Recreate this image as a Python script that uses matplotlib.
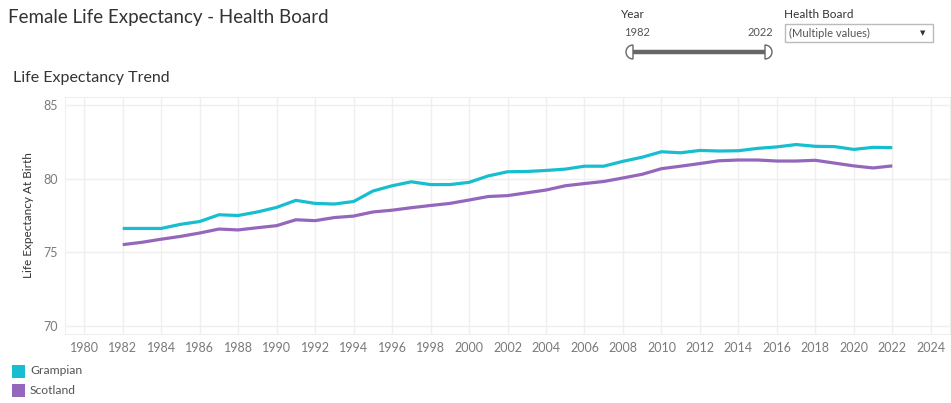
import matplotlib
matplotlib.use('Agg')
import matplotlib.pyplot as plt
from matplotlib.patches import Rectangle, Wedge

# Data
years = list(range(1982, 2023))
grampian = [76.62, 76.62, 76.62, 76.90, 77.09, 77.55, 77.50, 77.74, 78.05, 78.53,
            78.32, 78.28, 78.45, 79.16, 79.52, 79.79, 79.60, 79.60, 79.75, 80.19,
            80.47, 80.49, 80.56, 80.65, 80.85, 80.85, 81.18, 81.46, 81.83, 81.76,
            81.92, 81.88, 81.90, 82.06, 82.16, 82.32, 82.20, 82.18, 81.99, 82.13,
            82.11]
scotland = [75.52, 75.68, 75.89, 76.08, 76.31, 76.58, 76.52, 76.67, 76.81, 77.21,
            77.15, 77.36, 77.46, 77.74, 77.86, 78.03, 78.18, 78.32, 78.55, 78.79,
            78.85, 79.04, 79.23, 79.52, 79.67, 79.81, 80.05, 80.30, 80.68, 80.85,
            81.03, 81.22, 81.27, 81.27, 81.20, 81.20, 81.25, 81.06, 80.87, 80.73,
            80.87]
series_names = ['Grampian', 'Scotland']
series_colors = ['#17becf', '#9467bd']
x_ticks = list(range(1980, 2025, 2))
y_ticks = [70, 75, 80, 85]

plt.rcParams['font.family'] = ['Lato', 'DejaVu Sans']

fig = plt.figure(figsize=(9.51, 4.03), dpi=100)

# Main chart area
ax = fig.add_axes([65 / 951, 1 - 334 / 403, 885 / 951, 237 / 403])
ax.plot(years, grampian, color=series_colors[0], lw=2.3, solid_capstyle='butt')
ax.plot(years, scotland, color=series_colors[1], lw=2.3, solid_capstyle='butt')
ax.set_xlim(1979, 2025)
ax.set_ylim(69.45, 85.55)
ax.set_xticks(x_ticks)
ax.set_yticks(y_ticks)
ax.grid(True, color='#efefef', lw=1)
ax.set_axisbelow(True)
for s in ax.spines.values():
    s.set_color('#efefef')
ax.tick_params(length=0, labelsize=9, labelcolor='#7a7a7a', pad=6)
ax.tick_params(axis='y', pad=5)
ax.set_ylabel('Life Expectancy At Birth', fontsize=8.5, color='#333333', labelpad=7)

# Overlay in pixel coordinates for titles, legend and filter widgets
ov = fig.add_axes([0, 0, 1, 1], zorder=-1)
ov.set_xlim(0, 951)
ov.set_ylim(403, 0)
ov.axis('off')

ov.text(8, 18, 'Female Life Expectancy - Health Board', fontsize=13.5,
        color='#333333', va='center', ha='left')
ov.text(13, 78, 'Life Expectancy Trend', fontsize=11.5, color='#333333',
        va='center', ha='left')

# Legend
for i, (name, col) in enumerate(zip(series_names, series_colors)):
    yc = 371 + i * 19
    ov.add_patch(Rectangle((12, yc - 6.5), 13, 13, facecolor=col, edgecolor='none'))
    ov.text(30, yc, name, fontsize=8.7, color='#555555', va='center', ha='left')

# Year slider
ov.text(621, 14, 'Year', fontsize=8.5, color='#333333', va='center', ha='left')
ov.text(624, 33, '1982', fontsize=8, color='#555555', va='center', ha='left')
ov.text(773, 33, '2022', fontsize=8, color='#555555', va='center', ha='right')
ov.plot([633, 765], [52, 52], color='#666666', lw=3.2, solid_capstyle='butt')
ov.add_patch(Wedge((633, 52), 7, 90, 270, facecolor='white', edgecolor='#666666', lw=1))
ov.add_patch(Wedge((765, 52), 7, -90, 90, facecolor='white', edgecolor='#666666', lw=1))

# Health board dropdown
ov.text(784, 14, 'Health Board', fontsize=8.5, color='#333333', va='center', ha='left')
ov.add_patch(Rectangle((785, 24), 148, 18, facecolor='white', edgecolor='#bbbbbb', lw=1))
ov.text(789, 33, '(Multiple values)', fontsize=8, color='#555555', va='center', ha='left')
ov.text(923, 33, '\u25bc', fontsize=5, color='#333333', va='center', ha='center',
        family='DejaVu Sans')

fig.savefig('out.png', dpi=100, facecolor='white')
